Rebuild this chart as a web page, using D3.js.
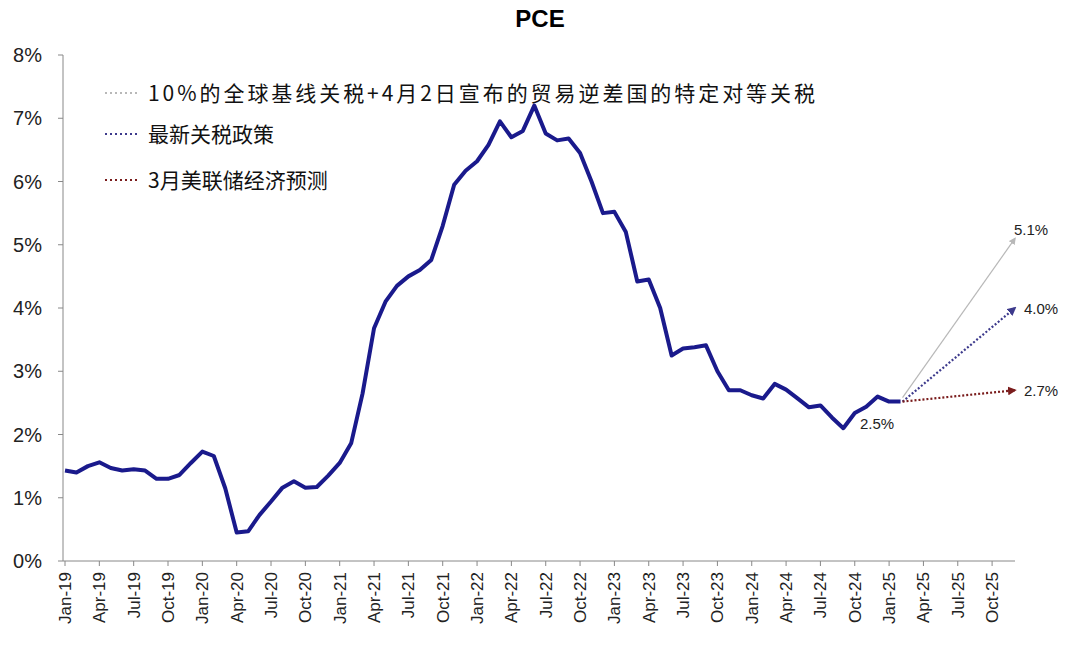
<!DOCTYPE html>
<html><head><meta charset="utf-8">
<script src="https://cdn.jsdelivr.net/npm/d3@7"></script>
<style>body{margin:0;background:#fff}</style>
</head><body>
<svg id="chart" width="1076" height="658"></svg>
<script>
// 月度 PCE 同比 (%)，2019-01 起
const pce = [
  1.43,1.40,1.50,1.56,1.47,1.43,1.45,1.43,1.30,1.30,1.36,1.55,
  1.73,1.66,1.15,0.45,0.47,0.73,0.94,1.16,1.26,1.16,1.17,1.35,
  1.55,1.86,2.65,3.68,4.10,4.35,4.50,4.60,4.76,5.30,5.95,6.17,
  6.32,6.58,6.95,6.70,6.80,7.20,6.76,6.65,6.68,6.45,6.00,5.50,
  5.52,5.20,4.42,4.45,4.00,3.25,3.36,3.38,3.41,3.00,2.70,2.70,
  2.62,2.57,2.80,2.71,2.57,2.43,2.46,2.27,2.10,2.34,2.44,2.60,
  2.52,2.52
];
const months = ['Jan','Feb','Mar','Apr','May','Jun','Jul','Aug','Sep','Oct','Nov','Dec'];
const scenarioNames = ['10%的全球基线关税+4月2日宣布的贸易逆差国的特定对等关税','最新关税政策','3月美联储经济预测'];
const scenarioEnd = [5.1, 4.0, 2.7];
const scenarioColors = ['#b8b8b8', '#3d3a8c', '#7a1c1c'];
const yTicks = [0,1,2,3,4,5,6,7,8];

const svg = d3.select('#chart');
const x = d3.scaleLinear().domain([0, 83]).range([65, 1015]);
const y = d3.scaleLinear().domain([0, 8]).range([561, 55]);

// 标题
svg.append('text').attr('x', 540).attr('y', 27).attr('text-anchor', 'middle')
  .attr('font-family', 'Arial, Liberation Sans').attr('font-weight', 'bold').attr('font-size', 24).text('PCE');

// 坐标轴
svg.append('line').attr('x1', 63).attr('x2', 63).attr('y1', 55).attr('y2', 561).attr('stroke', '#888');
svg.append('line').attr('x1', 63).attr('x2', 1015).attr('y1', 561).attr('y2', 561).attr('stroke', '#888');
yTicks.forEach(t => {
  svg.append('line').attr('x1', 58).attr('x2', 63).attr('y1', y(t)).attr('y2', y(t)).attr('stroke', '#888');
  svg.append('text').attr('x', 42).attr('y', y(t) + 7).attr('text-anchor', 'end')
    .attr('font-family', 'Arial, Liberation Sans').attr('font-size', 20).attr('fill', '#222').text(t + '%');
});
for (let i = 0; i <= 81; i += 3) {
  const label = months[i % 12] + '-' + (19 + Math.floor(i / 12));
  svg.append('line').attr('x1', x(i)).attr('x2', x(i)).attr('y1', 561).attr('y2', 566).attr('stroke', '#888');
  svg.append('text').attr('transform', `translate(${x(i) + 6},572) rotate(-90)`)
    .attr('text-anchor', 'end').attr('font-family', 'Arial, Liberation Sans').attr('font-size', 17)
    .attr('fill', '#222').text(label);
}

// 箭头
const defs = svg.append('defs');
scenarioColors.forEach((c, i) => {
  defs.append('marker').attr('id', 'arr' + i).attr('viewBox', '0 -5 10 10').attr('refX', 8)
    .attr('markerWidth', i === 0 ? 6 : 4).attr('markerHeight', i === 0 ? 6 : 4).attr('orient', 'auto')
    .append('path').attr('d', 'M0,-5L10,0L0,5').attr('fill', c);
});

// 主线
svg.append('path').datum(pce)
  .attr('d', d3.line().x((d, i) => x(i)).y(d => y(d)))
  .attr('fill', 'none').attr('stroke', '#1a1a8c').attr('stroke-width', 4).attr('stroke-linejoin', 'round');

// 情景
const last = pce.length - 1;
scenarioEnd.forEach((v, i) => {
  svg.append('line').attr('x1', x(last) + 2).attr('y1', y(pce[last]) - (i === 0 ? 4 : 0))
    .attr('x2', x(83)).attr('y2', y(v)).attr('stroke', scenarioColors[i])
    .attr('stroke-width', i === 0 ? 1.2 : 2.2).attr('stroke-dasharray', i === 0 ? null : '2,2')
    .attr('marker-end', `url(#arr${i})`);
  svg.append('text').attr('x', x(83) + (i === 0 ? -1 : 9)).attr('y', y(v) + (i === 0 ? -3 : 6))
    .attr('font-family', 'Arial, Liberation Sans').attr('font-size', 15).attr('fill', '#222')
    .text(v.toFixed(1) + '%');
});
svg.append('text').attr('x', 860).attr('y', 429).attr('font-family', 'Arial, Liberation Sans')
  .attr('font-size', 15).attr('fill', '#222').text(pce[last].toFixed(1) + '%');

// 图例
scenarioNames.forEach((n, i) => {
  const ly = [93, 134, 180][i];
  svg.append('line').attr('x1', 105).attr('x2', 140).attr('y1', ly).attr('y2', ly)
    .attr('stroke', scenarioColors[i]).attr('stroke-width', 2).attr('stroke-dasharray', '2,3');
  svg.append('text').attr('x', 148).attr('y', ly + 8).attr('font-family', 'Noto Sans CJK SC')
    .attr('font-size', 21).attr('fill', '#111').attr('textLength', i === 0 ? 667 : null).text(n);
});
</script>
</body></html>
